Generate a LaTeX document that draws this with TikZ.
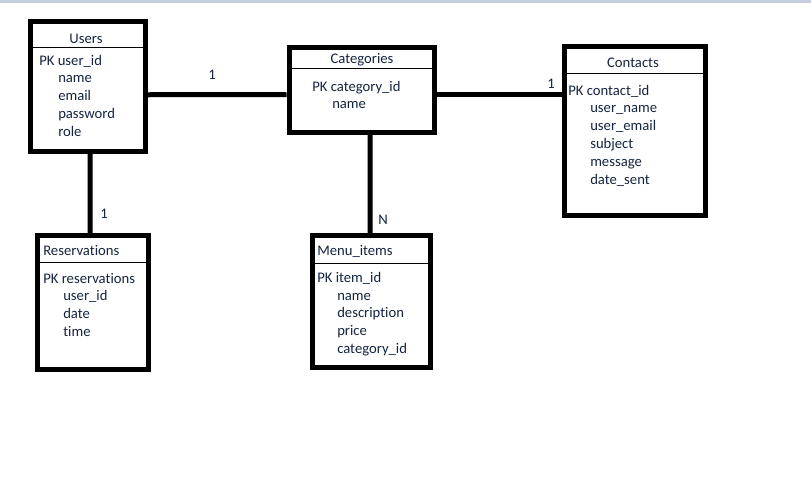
\documentclass[tikz,border=0pt]{standalone}
\usepackage{fontspec}
\setmainfont{Carlito}[Ligatures=NoCommon]
\usetikzlibrary{fit}

\definecolor{erText}{RGB}{20,36,64}
\definecolor{topBar}{RGB}{197,206,222}

\tikzset{
  entity/.style={draw,line width=3.75pt,inner sep=0pt},
  divider/.style={draw,line width=0.75pt},
  relation/.style={draw,line width=3.75pt},
  field/.style={anchor=west,inner sep=0pt,text height=7.1pt,text depth=0pt,
    text=erText,font=\fontsize{11pt}{13pt}\selectfont},
  title/.style={field,anchor=center},
  card/.style={field,anchor=center}
}

\begin{document}
\begin{tikzpicture}[x=0.75pt,y=-0.75pt]
\useasboundingbox (0,0) rectangle (811,479);
\fill[topBar] (0,0) rectangle (811,2.5);
%
% entities
\node[entity,fit={(30.5,21.5) (145.5,151)}] (users) {};
\node[entity,fit={(289,47.5) (434.5,132.5)}] (categories) {};
\node[entity,fit={(564.5,46.5) (705.5,215.5)}] (contacts) {};
\node[entity,fit={(37.5,235.5) (148,369.5)}] (reservations) {};
\node[entity,fit={(312.5,235.5) (430.5,367.5)}] (menuItems) {};
%
\path[divider] (users.west |- 0,47) -- (users.east |- 0,47);
\path[divider] (categories.west |- 0,68) -- (categories.east |- 0,68);
\path[divider] (contacts.west |- 0,73) -- (contacts.east |- 0,73);
\path[divider] (reservations.west |- 0,262) -- (reservations.east |- 0,262);
\path[divider] (menuItems.west |- 0,263) -- (menuItems.east |- 0,263);
%
% Users
\draw (86,38.5) node[title] (usersTitle) {Users};
\draw (39,60.5) node[field] (usersPK) {PK user\_id};
\draw (usersPK.west) ++ (19,17) node[field] (usersName) {name};
\draw (usersName.west) ++ (0,18) node[field] (usersEmail) {email};
\draw (usersEmail.west) ++ (0,18) node[field] (usersPassword) {password};
\draw (usersPassword.west) ++ (0,18) node[field] (usersRole) {role};
%
% Categories
\draw (362,58.5) node[title] (categoriesTitle) {Categories};
\draw (312,86.5) node[field] (categoriesPK) {PK category\_id};
\draw (categoriesPK.west) ++ (20,17) node[field] (categoriesName) {name};
%
% Contacts
\draw (633,62.5) node[title] (contactsTitle) {Contacts};
\draw (568,90.5) node[field] (contactsPK) {PK contact\_id};
\draw (contactsPK.west) ++ (22,17) node[field] (contactsUserName) {user\_name};
\draw (contactsUserName.west) ++ (0,18) node[field] (contactsUserEmail) {user\_email};
\draw (contactsUserEmail.west) ++ (0,18) node[field] (contactsSubject) {subject};
\draw (contactsSubject.west) ++ (0,18) node[field] (contactsMessage) {message};
\draw (contactsMessage.west) ++ (0,18) node[field] (contactsDateSent) {date\_sent};
%
% Reservations
\draw (43,250.5) node[field] (reservationsTitle) {Reservations};
\draw (43,278.5) node[field] (reservationsPK) {PK reservations};
\draw (reservationsPK.west) ++ (20,17) node[field] (reservationsUserId) {user\_id};
\draw (reservationsUserId.west) ++ (0,18) node[field] (reservationsDate) {date};
\draw (reservationsDate.west) ++ (0,18) node[field] (reservationsTime) {time};
%
% Menu_items
\draw (317,250.5) node[field] (menuItemsTitle) {Menu\_items};
\draw (317,277.5) node[field] (menuItemsPK) {PK item\_id};
\draw (menuItemsPK.west) ++ (20,18) node[field] (menuItemsName) {name};
\draw (menuItemsName.west) ++ (0,17) node[field] (menuItemsDescription) {description};
\draw (menuItemsDescription.west) ++ (0,18) node[field] (menuItemsPrice) {price};
\draw (menuItemsPrice.west) ++ (0,18) node[field] (menuItemsCategoryId) {category\_id};
%
% relations
\path[relation] ([yshift=-6.375pt]users.east) -- ([yshift=-3.375pt]categories.west);
\path[relation] ([yshift=-3.375pt]categories.east) -- ([yshift=27.375pt]contacts.west);
\path[relation] ([xshift=1.5pt]users.south) -- ([xshift=-2.06pt]reservations.north);
\path[relation] ([xshift=6.19pt]categories.south) -- ([xshift=-1.125pt]menuItems.north);
%
\draw (212,74.5) node[card] (usersCategoriesCard) {1};
\draw (551,83.5) node[card] (contactsCard) {1};
\draw (104,213.5) node[card] (reservationsCard) {1};
\draw (383,219.5) node[card] (menuItemsCard) {N};
\end{tikzpicture}
\end{document}
